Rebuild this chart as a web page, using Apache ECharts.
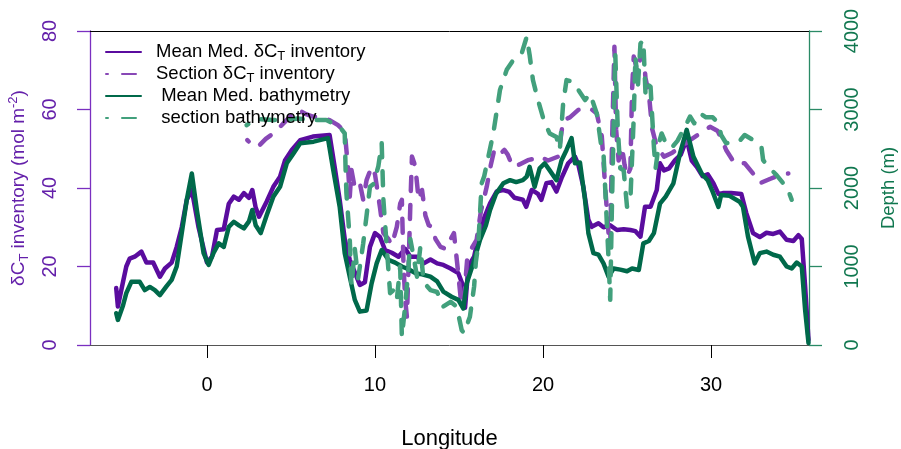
<!DOCTYPE html>
<html>
<head>
<meta charset="utf-8">
<script src="https://cdn.jsdelivr.net/npm/echarts@6/dist/echarts.min.js"></script>
<style>
  html, body { margin: 0; padding: 0; background: #fff; }
  #chart { width: 901px; height: 449px; }
</style>
</head>
<body>
<div id="chart"></div>
<script>
// [longitude, value] pairs
const meanInventory = [
  [-5.4, 14.5], [-5.3, 9.8], [-5.0, 16], [-4.8, 20], [-4.6, 22], [-4.3, 22.5], [-3.9, 23.8],
  [-3.6, 21], [-3.2, 21], [-2.8, 17.4], [-2.5, 19.5], [-2.1, 21], [-1.8, 25], [-1.5, 30],
  [-1.2, 37], [-0.9, 39.5], [-0.5, 30], [0.0, 21], [0.3, 22.5], [0.6, 29.3], [1.0, 29.5],
  [1.3, 36], [1.6, 37.8], [1.9, 37], [2.2, 38.7], [2.5, 37.5], [2.7, 39.5], [2.9, 35],
  [3.1, 32.7], [3.55, 36.5], [3.95, 40.3], [4.35, 42.9], [4.65, 47.1], [5.05, 49.7],
  [5.55, 52.2], [6.3, 53.1], [7.3, 53.5], [7.6, 45.4], [7.9, 37], [8.2, 27], [8.5, 21.7],
  [9.1, 15.3], [9.4, 16], [9.7, 25], [10.0, 28.5], [10.3, 27.5], [10.6, 24.2], [11.0, 23.5],
  [11.4, 22.5], [11.8, 24.5], [12.1, 22.5], [12.5, 22.5], [12.9, 20.8], [13.3, 21.8],
  [13.7, 20.8], [14.07, 20.4], [14.5, 19.5], [14.96, 18.3], [15.26, 14.9], [15.36, 9.5],
  [15.56, 20], [15.9, 22.5], [16.15, 27.6], [16.45, 31.9], [16.85, 36.1], [17.24, 39.1],
  [17.6, 39.5], [18.0, 39], [18.3, 37.5], [18.8, 37], [19.0, 35.2], [19.33, 39.5], [19.7, 38.5],
  [19.9, 37], [20.2, 41.2], [20.5, 41.5], [20.8, 39.1], [21.1, 42.5], [21.5, 46.3], [21.9, 48],
  [22.1, 46], [22.4, 40.3], [22.7, 31.9], [22.9, 30.1], [23.3, 31], [23.6, 30], [24.0, 30.5],
  [24.4, 29.3], [24.8, 29.5], [25.2, 29.3], [25.5, 29], [25.8, 27.6], [26.07, 35.2], [26.4, 35.2],
  [26.77, 39.5], [26.96, 46.3], [27.2, 44.5], [27.5, 45], [27.86, 47.1], [28.2, 48.5],
  [28.55, 52.5], [28.85, 47], [29.15, 45.4], [29.5, 43], [29.8, 43.5], [30.14, 41.2],
  [30.44, 38.5], [30.7, 38.7], [31.2, 38.7], [31.8, 38.5], [32.1, 33.6], [32.5, 28.5],
  [32.9, 27.5], [33.3, 28.6], [33.7, 28.3], [34.1, 28.9], [34.5, 26.8], [34.9, 26.5],
  [35.2, 28], [35.4, 27], [35.6, 14.9], [35.8, 1.3]
];

const sectionInventory = [
  [2.4, 52.2], [2.8, 50.5], [3.15, 51], [3.5, 52.5], [3.95, 53.9], [4.4, 55.8], [4.74, 57.3],
  [5.1, 58.8], [5.44, 59.9], [5.9, 58.8], [6.3, 58.2], [6.8, 58], [7.3, 57.3], [7.8, 56],
  [8.2, 54.4], [8.4, 45], [8.5, 37.8], [8.6, 44.6], [8.8, 40], [9.1, 41.2], [9.3, 37], [9.5, 42],
  [9.8, 45.4], [10.0, 43.5], [10.3, 35], [10.5, 28.5], [10.8, 27], [11.0, 25.5], [11.3, 30.1],
  [11.5, 36], [11.6, 37], [11.7, 20], [11.8, 11.5], [11.9, 7.2], [12.0, 20], [12.1, 35],
  [12.2, 48], [12.4, 45.5], [12.6, 37], [12.8, 39.5], [13.0, 33], [13.2, 30.5], [13.4, 30.1],
  [13.6, 27], [13.9, 25], [14.2, 24.5], [14.5, 27], [14.7, 28.5], [14.9, 20.5], [15.1, 12],
  [15.26, 9.8], [15.5, 22.5], [15.8, 25], [16.05, 26.8], [16.3, 34], [16.65, 40.3], [16.9, 46],
  [17.1, 49.7], [17.4, 48.5], [17.7, 49.7], [17.9, 48.5], [18.2, 45.4], [18.6, 46], [19.1, 47.1],
  [19.5, 47.5], [19.8, 48], [20.3, 47], [20.9, 48], [21.2, 57.3], [21.6, 58], [22.1, 59.9],
  [22.5, 60.3], [22.9, 60], [23.2, 59], [23.5, 53.1], [23.7, 40.3], [23.9, 28.5], [24.0, 25],
  [24.1, 50], [24.25, 76], [24.35, 55], [24.5, 47], [24.7, 50.5], [24.85, 46], [25.0, 42.9],
  [25.2, 45], [25.3, 65], [25.4, 73.5], [25.6, 70], [25.8, 73], [25.97, 74.3], [26.1, 68],
  [26.3, 64], [26.5, 55], [26.77, 50.5], [27.2, 48], [27.7, 49], [28.2, 50.5], [28.75, 52.2],
  [29.35, 53.9], [29.94, 55.6], [30.4, 54.5], [30.9, 49.7], [31.4, 46.3], [32.0, 46.3],
  [32.5, 43.7], [32.9, 41.2], [33.5, 42.3], [34.1, 43.3], [34.6, 43.7]
];

// depth in m
const meanBathymetry = [
  [-5.4, 405], [-5.3, 320], [-5.0, 500], [-4.8, 660], [-4.5, 805], [-4.0, 805], [-3.7, 700],
  [-3.4, 740], [-3.1, 700], [-2.8, 635], [-2.4, 750], [-2.1, 830], [-1.8, 1000], [-1.5, 1425],
  [-1.2, 1850], [-0.9, 2185], [-0.6, 1720], [-0.2, 1170], [0.1, 1020], [0.4, 1175], [0.7, 1295],
  [1.0, 1250], [1.3, 1505], [1.6, 1570], [1.9, 1525], [2.2, 1485], [2.5, 1575], [2.7, 1720],
  [2.9, 1525], [3.2, 1425], [3.55, 1650], [3.95, 1890], [4.35, 2015], [4.75, 2315], [5.15, 2440],
  [5.55, 2570], [6.35, 2590], [7.2, 2635], [7.5, 2250], [7.9, 1760], [8.2, 1170], [8.5, 870],
  [8.8, 575], [9.1, 425], [9.5, 440], [9.8, 785], [10.1, 1040], [10.4, 1210], [10.8, 1085],
  [11.2, 1050], [11.6, 1000], [12.0, 965], [12.4, 915], [12.8, 900], [13.3, 870], [13.7, 810],
  [14.07, 680], [14.56, 615], [14.96, 575], [15.26, 465], [15.46, 785], [15.85, 1040],
  [16.25, 1340], [16.6, 1525], [16.85, 1720], [17.2, 1925], [17.64, 2060], [18.04, 2100],
  [18.4, 2075], [18.8, 2100], [19.03, 2145], [19.2, 2270], [19.5, 2015], [19.8, 2250],
  [20.1, 2315], [20.4, 2225], [20.8, 2100], [21.1, 2350], [21.4, 2485], [21.7, 2635],
  [21.9, 2315], [22.2, 2325], [22.5, 1850], [22.7, 1425], [23.0, 1170], [23.3, 1150],
  [23.6, 1040], [23.9, 870], [24.2, 975], [24.6, 960], [25.0, 940], [25.3, 975], [25.7, 955],
  [25.97, 1295], [26.3, 1325], [26.6, 1425], [26.96, 1800], [27.3, 1890], [27.76, 2060],
  [28.15, 2440], [28.55, 2740], [28.95, 2400], [29.44, 2185], [29.8, 2100], [30.1, 1950],
  [30.44, 1760], [30.6, 1910], [31.1, 1900], [31.7, 1825], [31.9, 1760], [32.2, 1380],
  [32.6, 1040], [32.9, 1170], [33.3, 1190], [33.7, 1150], [34.1, 1125], [34.5, 1000],
  [34.8, 975], [35.1, 1050], [35.4, 1000], [35.6, 445], [35.8, 25]
];

const sectionBathymetry = [
  [2.36, 2800], [2.8, 2865], [3.2, 2875], [3.95, 2865], [4.7, 2865], [5.4, 2885], [6.3, 2865],
  [7.1, 2865], [7.9, 2780], [8.2, 2695], [8.25, 2250], [8.3, 1935], [8.5, 1340], [8.6, 745],
  [8.8, 1225], [9.0, 850], [9.3, 1295], [9.5, 1650], [9.7, 2015], [9.9, 2050], [10.2, 2275],
  [10.4, 2570], [10.5, 1850], [10.7, 1250], [10.9, 660], [11.1, 700], [11.3, 575], [11.5, 1000],
  [11.6, 105], [11.8, 500], [12.0, 1000], [12.1, 1350], [12.3, 1125], [12.5, 870], [12.7, 1250],
  [12.9, 800], [13.3, 700], [13.7, 675], [14.07, 490], [14.5, 550], [14.86, 490], [15.16, 190],
  [15.3, 150], [15.65, 360], [15.9, 745], [16.0, 1050], [16.15, 1295], [16.35, 2060],
  [16.5, 2150], [17.04, 2695], [17.44, 3250], [17.84, 3505], [18.23, 3630], [18.73, 3715],
  [19.03, 3925], [19.2, 3700], [19.4, 3375], [19.7, 3120], [20.1, 2825], [20.4, 2695],
  [20.8, 2650], [21.0, 2485], [21.2, 3080], [21.4, 3375], [21.8, 3350], [22.1, 3250],
  [22.5, 3120], [22.8, 3200], [23.2, 2950], [23.5, 2485], [23.6, 2440], [23.7, 2000],
  [23.9, 1100], [24.0, 575], [24.1, 1750], [24.2, 2750], [24.3, 3715], [24.45, 2750],
  [24.6, 2250], [24.8, 2225], [25.0, 1760], [25.2, 1850], [25.4, 2900], [25.5, 3675],
  [25.65, 3300], [25.8, 3840], [25.97, 3885], [26.1, 3200], [26.2, 3325], [26.4, 3290],
  [26.5, 2900], [26.6, 2525], [26.7, 2250], [26.9, 2575], [27.06, 2695], [27.4, 2525],
  [27.7, 2525], [28.0, 2600], [28.35, 2740], [28.75, 2910], [29.0, 2825], [29.35, 2950],
  [29.7, 2900], [30.1, 2900], [30.44, 2825], [30.6, 2675], [30.9, 2570], [31.3, 2590],
  [31.7, 2600], [32.0, 2675], [32.4, 2625], [32.7, 2570], [33.0, 2525], [33.1, 2355],
  [33.5, 2250], [33.9, 2165], [34.3, 2060], [34.5, 2025], [34.8, 1850]
];

const lonTicks = [0, 10, 20, 30];
const seriesNames = ['Mean Med. δCT inventory', 'Section δCT inventory', ' Mean Med. bathymetry', ' section bathymetry'];
const legendLabels = {
  'Mean Med. δCT inventory': 'Mean Med. δC{sub|T} inventory',
  'Section δCT inventory': 'Section δC{sub|T} inventory',
  ' Mean Med. bathymetry': ' Mean Med. bathymetry',
  ' section bathymetry': ' section bathymetry'
};

const FONT = 'Liberation Sans, Arial, sans-serif';
const purple = '#5a0c9e';
const purpleLight = '#8848b6';
const green = '#00694a';
const greenLight = '#42a07c';
const purpleText = '#6420aa';
const greenText = '#10774f';

const chart = echarts.init(document.getElementById('chart'));

function lineSeries(name, data, yIdx, color, dashed) {
  return {
    name: name,
    type: 'line',
    data: data,
    yAxisIndex: yIdx,
    symbol: 'none',
    showSymbol: false,
    animation: false,
    itemStyle: { color: color },
    lineStyle: {
      color: color,
      width: 4.5,
      cap: 'round',
      join: 'round',
      type: dashed ? [14, 14] : 'solid',
      dashOffset: dashed ? 12 : 0
    }
  };
}

chart.setOption({
  animation: false,
  textStyle: { fontFamily: FONT },
  grid: { left: 90, right: 92, top: 31, bottom: 104, containLabel: false, outerBoundsMode: 'none' },
  legend: {
    left: 105, top: 41, orient: 'vertical', padding: 0,
    itemWidth: 35, itemHeight: 12, itemGap: 0,
    data: seriesNames,
    itemStyle: { opacity: 0, borderWidth: 0 },
    formatter: function (n) { return legendLabels[n]; },
    textStyle: {
      fontFamily: FONT, fontSize: 18.5, color: '#000', lineHeight: 22, padding: [0, 0, 0, 10],
      rich: {
        sub: { fontFamily: FONT, fontSize: 13, verticalAlign: 'bottom', lineHeight: 22, color: '#000' }
      }
    }
  },
  xAxis: [{
    type: 'value', min: -6.96, max: 35.83, position: 'bottom',
    name: 'Longitude', nameLocation: 'middle', nameGap: 83,
    nameTextStyle: { fontFamily: FONT, fontSize: 22, color: '#000' },
    axisLine: { show: true, onZero: false, lineStyle: { color: '#555', width: 1 } },
    axisTick: { show: true, length: 13, customValues: lonTicks, lineStyle: { color: '#000', width: 1 } },
    axisLabel: { customValues: lonTicks, margin: 30, fontSize: 20, color: '#000', fontFamily: FONT },
    splitLine: { show: false }
  }, {
    type: 'value', min: -6.96, max: 35.83, position: 'top',
    axisLine: { show: true, onZero: false, lineStyle: { color: '#000', width: 1 } },
    axisTick: { show: false }, axisLabel: { show: false }, splitLine: { show: false }
  }],
  yAxis: [{
    type: 'value', min: 0, max: 80, interval: 20, position: 'left',
    name: 'δC{sub|T} inventory (mol m{sup|-2})', nameLocation: 'middle', nameGap: 59, nameRotate: 90,
    nameTextStyle: {
      fontFamily: FONT, fontSize: 19, color: purpleText, lineHeight: 22,
      rich: {
        sub: { fontFamily: FONT, fontSize: 13, color: purpleText, verticalAlign: 'bottom', lineHeight: 24 },
        sup: { fontFamily: FONT, fontSize: 13, color: purpleText, verticalAlign: 'top', lineHeight: 24 }
      }
    },
    axisLine: { show: true, onZero: false, lineStyle: { color: '#7a2fc0', width: 1.3 } },
    axisTick: { show: true, length: 13, lineStyle: { color: '#7a2fc0', width: 1.3 } },
    axisLabel: { rotate: 90, margin: 30, fontSize: 20, color: purpleText, fontFamily: FONT,
      formatter: function (v) { return String(v); } },
    splitLine: { show: false }
  }, {
    type: 'value', min: 0, max: 4000, interval: 1000, position: 'right',
    name: 'Depth (m)', nameLocation: 'middle', nameGap: 70, nameRotate: 90,
    nameTextStyle: { fontFamily: FONT, fontSize: 18.5, color: greenText },
    axisLine: { show: true, onZero: false, lineStyle: { color: '#2a8a66', width: 1.3 } },
    axisTick: { show: true, length: 13, lineStyle: { color: '#2a8a66', width: 1.3 } },
    axisLabel: { rotate: 90, margin: 33, fontSize: 20, color: greenText, fontFamily: FONT,
      formatter: function (v) { return String(v); } },
    splitLine: { show: false }
  }],
  series: [
    lineSeries(seriesNames[0], meanInventory, 0, purple, false),
    lineSeries(seriesNames[1], sectionInventory, 0, purpleLight, true),
    lineSeries(seriesNames[2], meanBathymetry, 1, green, false),
    lineSeries(seriesNames[3], sectionBathymetry, 1, greenLight, true)
  ]
});
</script>
</body>
</html>
